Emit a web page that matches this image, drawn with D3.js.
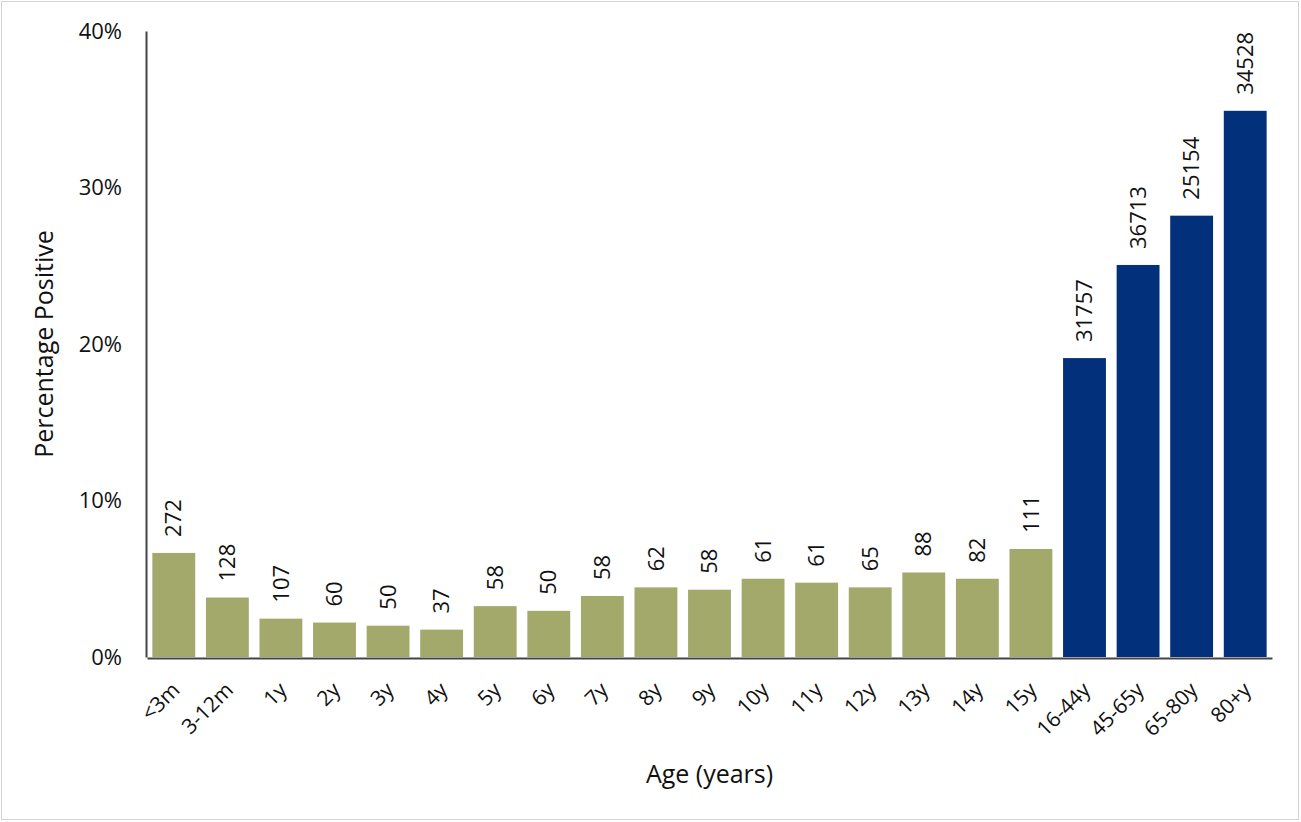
<!DOCTYPE html>
<html>
<head>
<meta charset="utf-8">
<script src="https://cdn.jsdelivr.net/npm/d3@7"></script>
<style>
  body { margin: 0; background: #fff; }
  text { font-family: "Open Sans", "Liberation Sans", sans-serif; fill: #111; }
</style>
</head>
<body>
<svg id="chart"></svg>
<script>
// Age groups along the x axis
const ageGroups = ["<3m", "3-12m", "1y", "2y", "3y", "4y", "5y", "6y", "7y", "8y", "9y",
  "10y", "11y", "12y", "13y", "14y", "15y", "16-44y", "45-65y", "65-80y", "80+y"];
// Percentage positive
const percentPositive = [6.65, 3.8, 2.45, 2.2, 2.0, 1.75, 3.25, 2.95, 3.9, 4.45, 4.3,
  5.0, 4.75, 4.45, 5.4, 5.0, 6.9, 19.1, 25.05, 28.2, 34.9];
// Number tested, printed above each bar
const sampleSizes = [272, 128, 107, 60, 50, 37, 58, 50, 58, 62, 58,
  61, 61, 65, 88, 82, 111, 31757, 36713, 25154, 34528];
// Children vs adults
const adultGroups = ["16-44y", "45-65y", "65-80y", "80+y"];
const yTicks = [0, 10, 20, 30, 40];

const width = 1301;
const height = 822;
const margin = { top: 31, right: 29, bottom: 165, left: 147 };

const svg = d3.select("#chart")
  .attr("width", width)
  .attr("height", height);

// light frame round the picture
svg.append("rect")
  .attr("x", 1.5).attr("y", 1.5)
  .attr("width", width - 4).attr("height", height - 4)
  .attr("fill", "none")
  .attr("stroke", "#d4d4d4");

const x = d3.scaleBand()
  .domain(ageGroups)
  .range([margin.left, width - margin.right])
  .paddingInner(0.2)
  .paddingOuter(0.1);

const y = d3.scaleLinear()
  .domain([0, 40])
  .range([height - margin.bottom, margin.top]);

const data = ageGroups.map((g, i) => ({ group: g, pct: percentPositive[i], n: sampleSizes[i] }));

// bars
svg.selectAll("rect.bar")
  .data(data)
  .join("rect")
  .attr("class", "bar")
  .attr("x", d => x(d.group))
  .attr("y", d => y(d.pct))
  .attr("width", x.bandwidth())
  .attr("height", d => y(0) - y(d.pct))
  .attr("fill", d => adultGroups.includes(d.group) ? "#03307a" : "#a3a86b");

// sample size labels, rotated
svg.selectAll("text.count")
  .data(data)
  .join("text")
  .attr("class", "count")
  .attr("transform", d => `translate(${x(d.group) + x.bandwidth() / 2},${y(d.pct) - 16}) rotate(-90)`)
  .attr("dy", "0.35em")
  .attr("text-anchor", "start")
  .style("font-size", "22px")
  .text(d => d.n);

// y axis
const yAxis = svg.append("g")
  .attr("transform", `translate(${margin.left - 1},0)`)
  .call(d3.axisLeft(y).tickValues(yTicks).tickFormat(d => d + "%").tickSize(0).tickPadding(24));
yAxis.select(".domain").attr("stroke", "#444").attr("stroke-width", 2);
yAxis.selectAll("text").style("font-size", "22px").attr("fill", "#111");

// x axis
const xAxis = svg.append("g")
  .attr("transform", `translate(0,${y(0) + 1})`)
  .call(d3.axisBottom(x).tickSize(0).tickSizeOuter(0));
xAxis.select(".domain").attr("stroke", "#444").attr("stroke-width", 2);
xAxis.selectAll("text")
  .style("font-size", "21px")
  .attr("fill", "#111")
  .attr("text-anchor", "end")
  .attr("dy", "0.35em")
  .attr("transform", "translate(2,28) rotate(-45)")
  .attr("y", 0)
  .attr("x", 0);

// axis titles
svg.append("text")
  .attr("x", (margin.left + width - margin.right) / 2)
  .attr("y", 783)
  .attr("text-anchor", "middle")
  .style("font-size", "25px")
  .text("Age (years)");

svg.append("text")
  .attr("transform", `translate(44,${(margin.top + height - margin.bottom) / 2}) rotate(-90)`)
  .attr("text-anchor", "middle")
  .attr("dy", "0.35em")
  .style("font-size", "25px")
  .text("Percentage Positive");
</script>
</body>
</html>
